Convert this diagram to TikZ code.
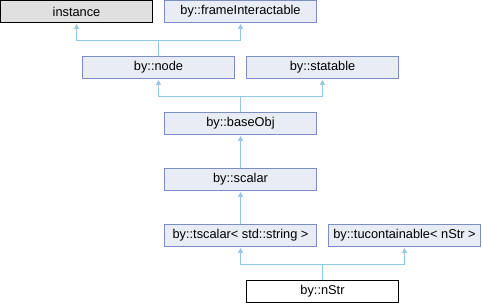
\documentclass[tikz,border=0pt]{standalone}
\usepackage{fontspec}
\setmainfont{Liberation Sans}
\usetikzlibrary{arrows.meta}
\definecolor{boxfill}{HTML}{E8ECF5}
\definecolor{boxline}{HTML}{7A90C4}
\definecolor{topfill}{HTML}{E0E0E0}
\definecolor{edgecol}{HTML}{94C8E8}
\tikzset{
  cls/.style={draw=boxline, fill=boxfill, line width=1pt, minimum width=152pt, minimum height=22pt, inner sep=0pt, outer sep=0pt, font=\fontsize{12.8}{14}\selectfont},
  ext/.style={cls, draw=black, fill=topfill},
  cur/.style={cls, draw=black, fill=white},
  edge/.style={draw=edgecol, line width=1pt, -{Triangle[width=5pt,length=5pt]}, shorten >=1.5pt}
}
\begin{document}
\begin{tikzpicture}[x=1pt,y=-1pt]
\useasboundingbox (0,0) rectangle (482,304);
\node[ext] (inst) at (76.5,11.5) {instance};
\node[cls] (frame) at (240.5,11.5) {by::frameInteractable};
\node[cls] (node) at (158.5,67.5) {by::node};
\node[cls] (stat) at (322.5,67.5) {by::statable};
\node[cls] (base) at (240.5,123.5) {by::baseObj};
\node[cls] (scal) at (240.5,179.5) {by::scalar};
\node[cls] (tsc) at (240.5,235.5) {by::tscalar< std::string >};
\node[cls] (tuc) at (404.5,235.5) {by::tucontainable< nStr >};
\node[cur] (nstr) at (322.5,291.5) {by::nStr};
\coordinate (j1) at (158.5,40.5);
\coordinate (j2) at (240.5,96.5);
\coordinate (j3) at (322.5,264.5);
\draw[edge] (node.north) -- (j1) -| (inst.south);
\draw[edge] (node.north) -- (j1) -| (frame.south);
\draw[edge] (base.north) -- (j2) -| (node.south);
\draw[edge] (base.north) -- (j2) -| (stat.south);
\draw[edge] (scal.north) -- (base.south);
\draw[edge] (tsc.north) -- (scal.south);
\draw[edge] (nstr.north) -- (j3) -| (tsc.south);
\draw[edge] (nstr.north) -- (j3) -| (tuc.south);
\end{tikzpicture}
\end{document}
